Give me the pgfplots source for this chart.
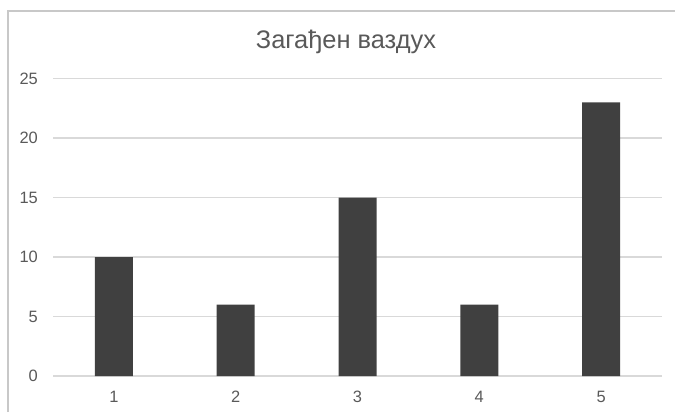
\documentclass[border=0pt]{standalone}
\usepackage{pgfplots}
\pgfplotsset{compat=1.18}
\usepackage{fontspec}
\setmainfont{Liberation Sans}
\definecolor{barc}{HTML}{404040}
\definecolor{gridc}{HTML}{D9D9D9}
\definecolor{borderc}{HTML}{C8C8C8}
\definecolor{txt}{HTML}{595959}
\begin{document}
\begin{tikzpicture}[x=1bp,y=1bp]
\path[use as bounding box] (0,0) rectangle (675,412);
\draw[borderc, line width=1.5bp] (8,0) -- (8,401) -- (675,401);
\node[anchor=base, text=txt, font=\fontsize{25.5}{25.5}\selectfont] at (346,363.7) {Загађен ваздух};
\begin{axis}[
  at={(53bp,36bp)}, anchor=south west,
  scale only axis, width=609bp, height=297.5bp,
  ybar, bar width=38bp,
  xmin=0.5, xmax=5.5, ymin=0, ymax=25,
  xtick={1,2,3,4,5}, ytick={0,5,10,15,20,25},
  axis x line*=bottom, axis y line*=left,
  x axis line style={gridc, line width=1.2bp, -},
  y axis line style={draw=none},
  ymajorgrids, grid style={gridc, line width=1.2bp},
  major tick length=0pt,
  /pgf/number format/assume math mode=true,
  tick label style={text=txt, font=\fontsize{16.5}{16.5}\selectfont},
  yticklabel style={anchor=east, inner sep=0pt, xshift=-15bp},
  xticklabel style={anchor=north, inner sep=0pt, yshift=-15bp},
  clip=false,
]
\addplot[fill=barc, draw=none] coordinates {(1,10) (2,6) (3,15) (4,6) (5,23)};
\end{axis}
\end{tikzpicture}
\end{document}
